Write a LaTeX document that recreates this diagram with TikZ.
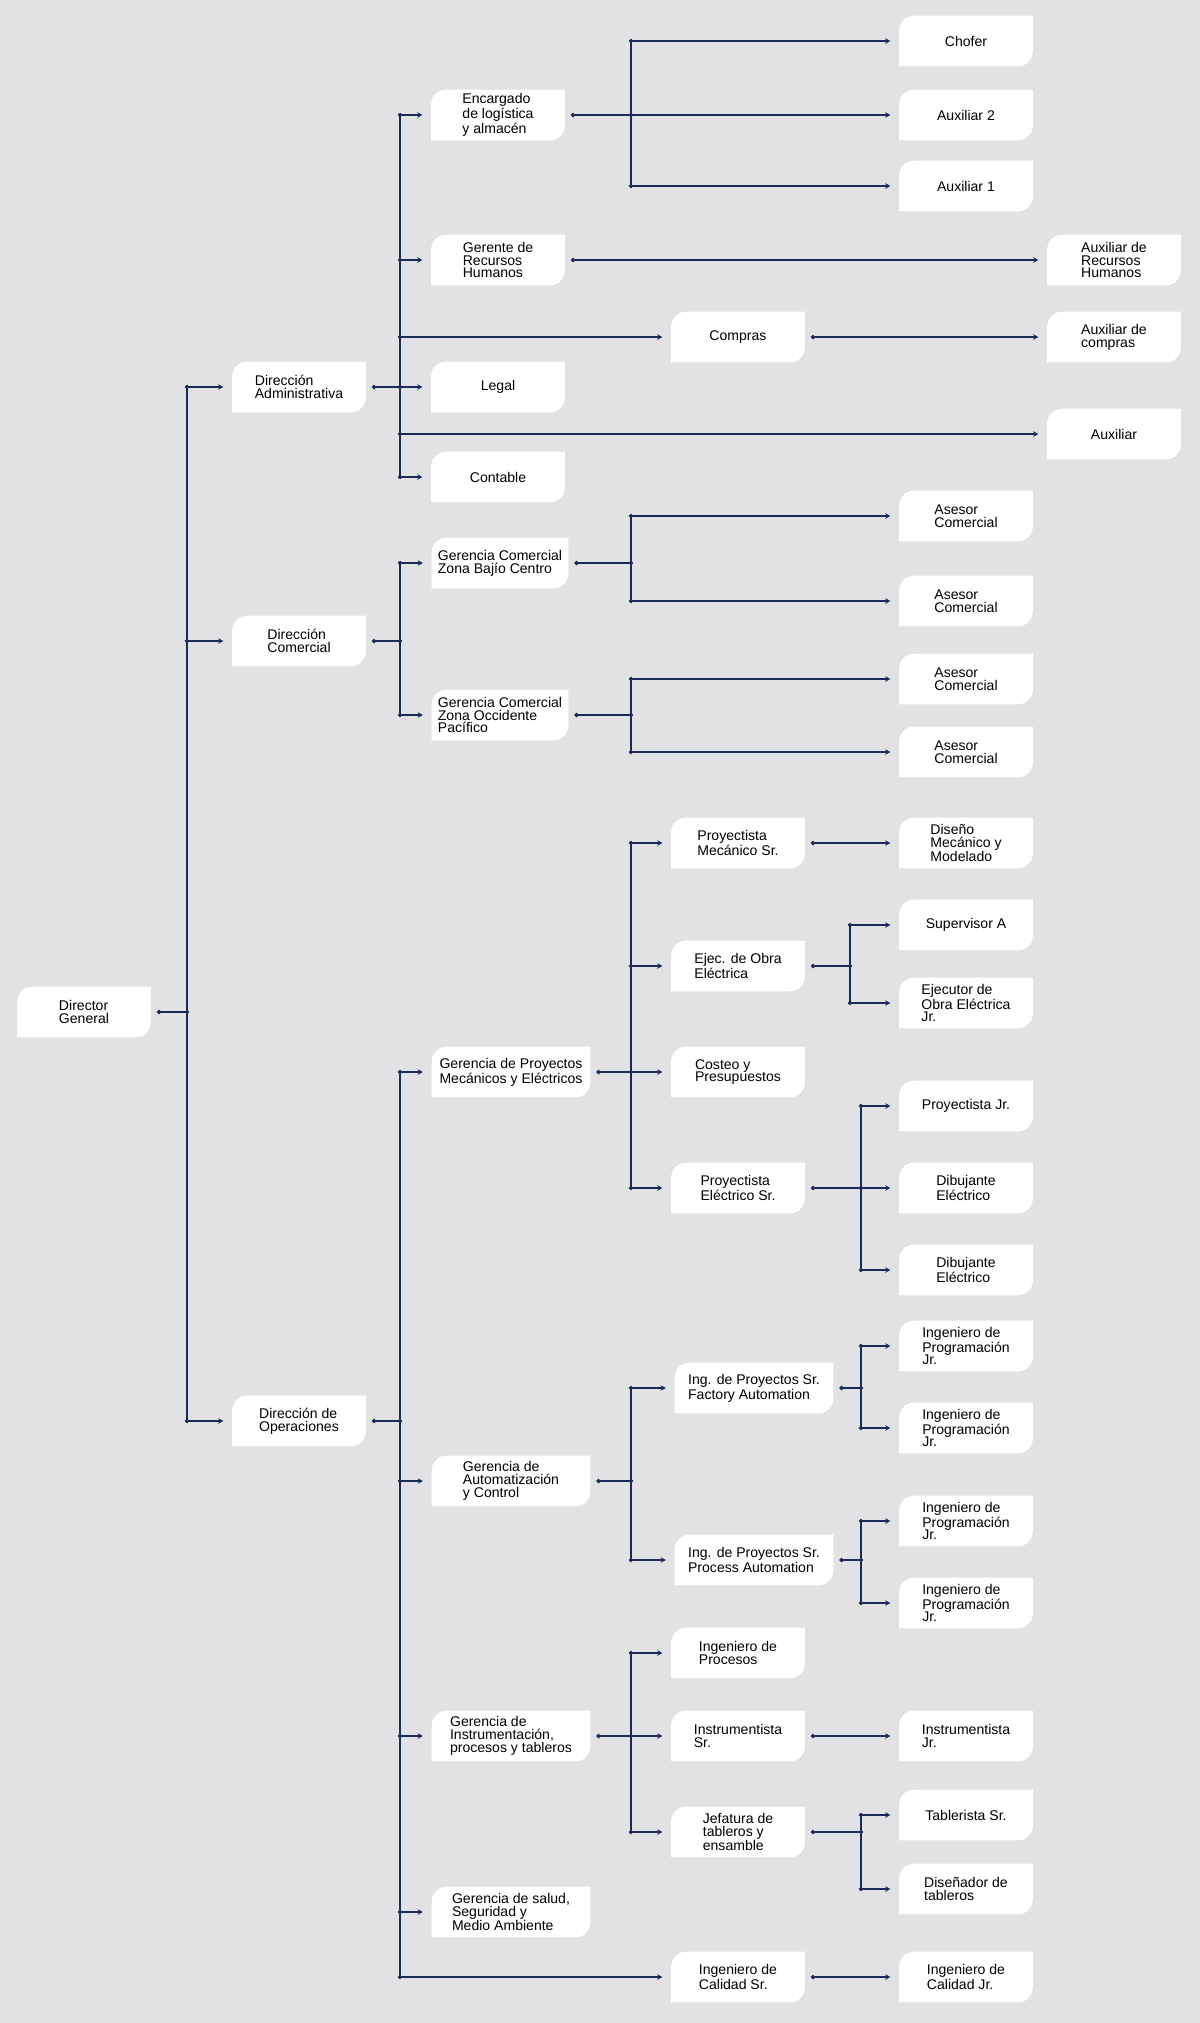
\documentclass[tikz,border=0pt]{standalone}
\usepackage{fontspec}
\setmainfont{Liberation Sans}
\usepackage{tikz}
\usetikzlibrary{arrows.meta}
\definecolor{navy}{RGB}{28,42,88}
\definecolor{canvas}{RGB}{226,226,228}
\pgfdeclarelayer{back}
\pgfdeclarelayer{cards}
\pgfsetlayers{back,cards,main}

\begin{document}
\begin{tikzpicture}[
  x=0.02cm, y=-0.02cm,
  unit/.style={rectangle, minimum width=2.66cm, minimum height=1cm, inner sep=0pt,
    align=left, font=\fontsize{8}{7.3}\selectfont},
  wide/.style={unit, minimum width=3.16cm},
  wire/.style={draw=navy, line width=0.8pt},
  feed/.style={wire, {Circle[length=2.4pt]}-{Circle[length=2.4pt]}, shorten <=3.5pt, shorten >=-1.2pt},
  branch/.style={wire, {Circle[length=2.4pt]}-{Stealth[length=3pt,width=3.2pt]}, shorten <=-1.2pt, shorten >=5pt},
  direct/.style={wire, {Circle[length=2.4pt]}-{Stealth[length=3pt,width=3.2pt]}, shorten <=3.5pt, shorten >=5pt}
]
  \begin{pgfonlayer}{back}
    \fill[canvas] (0,0) rectangle (1200,2023);
  \end{pgfonlayer}

  \node[unit] (dirgen) at (84,1012) {Director\\General};
  \node[unit] (diradm) at (299,387) {Dirección\\Administrativa};
  \node[unit] (dircom) at (299,641) {Dirección\\Comercial};
  \node[unit] (dirops) at (299,1421) {Dirección de\\Operaciones};

  \node[unit] (logist) at (498,115) {Encargado\\de logística\\y almacén};
  \node[unit] (rrhh) at (498,260) {Gerente de\\Recursos\\Humanos};
  \node[unit] (compras) at (738,337) {Compras};
  \node[unit] (legal) at (498,387) {Legal};
  \node[unit] (contable) at (498,477) {Contable};
  \node[unit] (chofer) at (966,41) {Chofer};
  \node[unit] (aux2) at (966,115) {Auxiliar 2};
  \node[unit] (aux1) at (966,186) {Auxiliar 1};
  \node[unit] (auxrh) at (1114,260) {Auxiliar de\\Recursos\\Humanos};
  \node[unit] (auxcomp) at (1114,337) {Auxiliar de\\compras};
  \node[unit] (aux) at (1114,434) {Auxiliar};

  \node[unit, minimum width=2.72cm] (zbajio) at (500,563) {Gerencia Comercial\\Zona Bajío Centro};
  \node[unit, minimum width=2.72cm] (zocc) at (500,715) {Gerencia Comercial\\Zona Occidente\\Pacífico};
  \node[unit] (asesor1) at (966,516) {Asesor\\Comercial};
  \node[unit] (asesor2) at (966,601) {Asesor\\Comercial};
  \node[unit] (asesor3) at (966,679) {Asesor\\Comercial};
  \node[unit] (asesor4) at (966,752) {Asesor\\Comercial};

  \node[wide] (gpme) at (511,1072) {Gerencia de Proyectos\\Mecánicos y Eléctricos};
  \node[wide] (gac) at (511,1481) {Gerencia de\\Automatización\\y Control};
  \node[wide] (gipt) at (511,1736) {Gerencia de\\Instrumentación,\\procesos y tableros};
  \node[wide] (gssma) at (511,1912) {Gerencia de salud,\\Seguridad y\\Medio Ambiente};

  \node[unit] (pmec) at (738,843) {Proyectista\\Mecánico Sr.};
  \node[unit] (diseno) at (966,843) {Diseño\\Mecánico y\\Modelado};
  \node[unit] (obra) at (738,966) {Ejec. de Obra\\Eléctrica};
  \node[unit] (superv) at (966,925) {Supervisor A};
  \node[unit] (ejecjr) at (966,1003) {Ejecutor de\\Obra Eléctrica\\Jr.};
  \node[unit] (costeo) at (738,1072) {Costeo y\\Presupuestos};
  \node[unit] (pelec) at (738,1188) {Proyectista\\Eléctrico Sr.};
  \node[unit] (proyjr) at (966,1106) {Proyectista Jr.};
  \node[unit] (dibuj1) at (966,1188) {Dibujante\\Eléctrico};
  \node[unit] (dibuj2) at (966,1270) {Dibujante\\Eléctrico};

  \node[wide] (factory) at (754,1388) {Ing. de Proyectos Sr.\\Factory Automation};
  \node[wide] (process) at (754,1560) {Ing. de Proyectos Sr.\\Process Automation};
  \node[unit] (prog1) at (966,1346) {Ingeniero de\\Programación\\Jr.};
  \node[unit] (prog2) at (966,1428) {Ingeniero de\\Programación\\Jr.};
  \node[unit] (prog3) at (966,1521) {Ingeniero de\\Programación\\Jr.};
  \node[unit] (prog4) at (966,1603) {Ingeniero de\\Programación\\Jr.};

  \node[unit] (procesos) at (738,1653) {Ingeniero de\\Procesos};
  \node[unit] (instsr) at (738,1736) {Instrumentista\\Sr.};
  \node[unit] (instjr) at (966,1736) {Instrumentista\\Jr.};
  \node[unit] (jefat) at (738,1832) {Jefatura de\\tableros y\\ensamble};
  \node[unit] (tabler) at (966,1815) {Tablerista Sr.};
  \node[unit] (disen) at (966,1889) {Diseñador de\\tableros};
  \node[unit] (calsr) at (738,1977) {Ingeniero de\\Calidad Sr.};
  \node[unit] (caljr) at (966,1977) {Ingeniero de\\Calidad Jr.};

  \begin{pgfonlayer}{cards}
    \foreach \n in {dirgen,diradm,dircom,dirops,logist,rrhh,compras,legal,contable,
        chofer,aux2,aux1,auxrh,auxcomp,aux,zbajio,zocc,asesor1,asesor2,asesor3,asesor4,
        gpme,gac,gipt,gssma,pmec,diseno,obra,superv,ejecjr,costeo,pelec,proyjr,dibuj1,dibuj2,
        factory,process,prog1,prog2,prog3,prog4,procesos,instsr,instjr,jefat,tabler,disen,
        calsr,caljr}
      \fill[white, rounded corners=8.5pt] (\n.south west) rectangle (\n.north east)
        [sharp corners] (\n.south west) rectangle (\n.center) (\n.center) rectangle (\n.north east);
  \end{pgfonlayer}

  \coordinate (jtop) at (187,1012);
  \coordinate (jadm) at (400,387);
  \coordinate (jlog) at (631,115);
  \coordinate (jcom) at (400,641);
  \coordinate (jbaj) at (631,563);
  \coordinate (jocc) at (631,715);
  \coordinate (jops) at (400,1421);
  \coordinate (jgpme) at (631,1072);
  \coordinate (jobra) at (850,966);
  \coordinate (jpel) at (861,1188);
  \coordinate (jgac) at (631,1481);
  \coordinate (jfac) at (861,1388);
  \coordinate (jpro) at (861,1560);
  \coordinate (jgipt) at (631,1736);
  \coordinate (jjef) at (861,1832);

  \draw[feed] (dirgen) -- (jtop);
  \draw[wire] (jtop |- diradm) -- (jtop |- dirops);
  \foreach \n in {diradm,dircom,dirops}
    \draw[branch] (jtop |- \n) -- (\n);

  \draw[feed] (diradm) -- (jadm);
  \draw[wire] (jadm |- logist) -- (jadm |- contable);
  \foreach \n in {logist,rrhh,compras,legal,aux,contable}
    \draw[branch] (jadm |- \n) -- (\n);
  \draw[feed] (logist) -- (jlog);
  \draw[wire] (jlog |- chofer) -- (jlog |- aux1);
  \foreach \n in {chofer,aux2,aux1}
    \draw[branch] (jlog |- \n) -- (\n);
  \draw[direct] (rrhh) -- (auxrh);
  \draw[direct] (compras) -- (auxcomp);

  \draw[feed] (dircom) -- (jcom);
  \draw[wire] (jcom |- zbajio) -- (jcom |- zocc);
  \foreach \n in {zbajio,zocc}
    \draw[branch] (jcom |- \n) -- (\n);
  \draw[feed] (zbajio) -- (jbaj);
  \draw[wire] (jbaj |- asesor1) -- (jbaj |- asesor2);
  \foreach \n in {asesor1,asesor2}
    \draw[branch] (jbaj |- \n) -- (\n);
  \draw[feed] (zocc) -- (jocc);
  \draw[wire] (jocc |- asesor3) -- (jocc |- asesor4);
  \foreach \n in {asesor3,asesor4}
    \draw[branch] (jocc |- \n) -- (\n);

  \draw[feed] (dirops) -- (jops);
  \draw[wire] (jops |- gpme) -- (jops |- calsr);
  \foreach \n in {gpme,gac,gipt,gssma,calsr}
    \draw[branch] (jops |- \n) -- (\n);
  \draw[direct] (calsr) -- (caljr);

  \draw[feed] (gpme) -- (jgpme);
  \draw[wire] (jgpme |- pmec) -- (jgpme |- pelec);
  \foreach \n in {pmec,obra,costeo,pelec}
    \draw[branch] (jgpme |- \n) -- (\n);
  \draw[direct] (pmec) -- (diseno);
  \draw[feed] (obra) -- (jobra);
  \draw[wire] (jobra |- superv) -- (jobra |- ejecjr);
  \foreach \n in {superv,ejecjr}
    \draw[branch] (jobra |- \n) -- (\n);
  \draw[feed] (pelec) -- (jpel);
  \draw[wire] (jpel |- proyjr) -- (jpel |- dibuj2);
  \foreach \n in {proyjr,dibuj1,dibuj2}
    \draw[branch] (jpel |- \n) -- (\n);

  \draw[feed] (gac) -- (jgac);
  \draw[wire] (jgac |- factory) -- (jgac |- process);
  \foreach \n in {factory,process}
    \draw[branch] (jgac |- \n) -- (\n);
  \draw[feed] (factory) -- (jfac);
  \draw[wire] (jfac |- prog1) -- (jfac |- prog2);
  \foreach \n in {prog1,prog2}
    \draw[branch] (jfac |- \n) -- (\n);
  \draw[feed] (process) -- (jpro);
  \draw[wire] (jpro |- prog3) -- (jpro |- prog4);
  \foreach \n in {prog3,prog4}
    \draw[branch] (jpro |- \n) -- (\n);

  \draw[feed] (gipt) -- (jgipt);
  \draw[wire] (jgipt |- procesos) -- (jgipt |- jefat);
  \foreach \n in {procesos,instsr,jefat}
    \draw[branch] (jgipt |- \n) -- (\n);
  \draw[direct] (instsr) -- (instjr);
  \draw[feed] (jefat) -- (jjef);
  \draw[wire] (jjef |- tabler) -- (jjef |- disen);
  \foreach \n in {tabler,disen}
    \draw[branch] (jjef |- \n) -- (\n);
\end{tikzpicture}
\end{document}
